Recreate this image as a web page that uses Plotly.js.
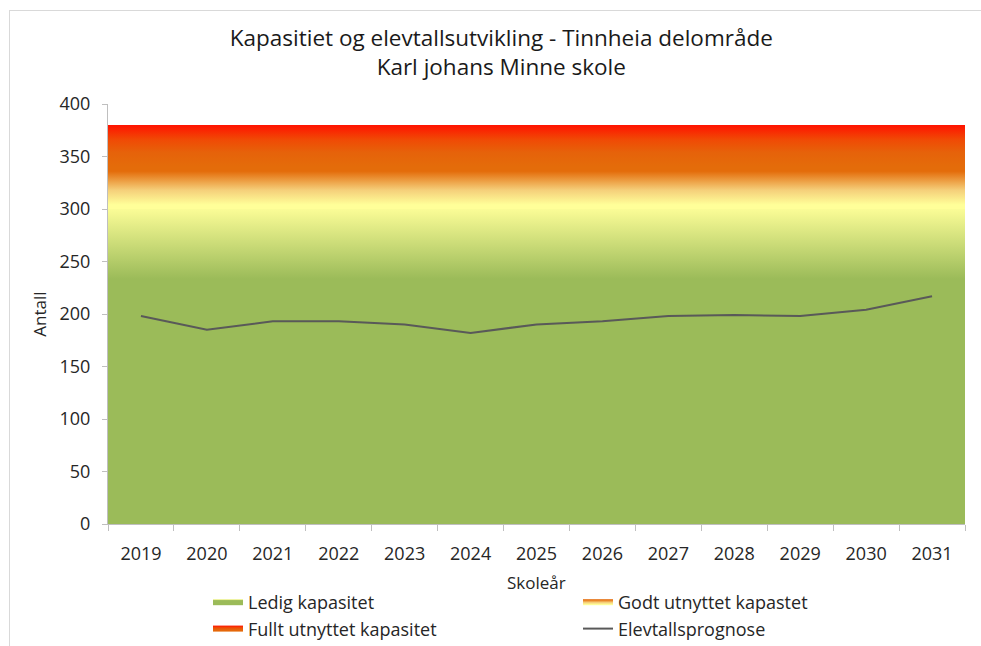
<!DOCTYPE html>
<html>
<head>
<meta charset="utf-8">
<script src="https://cdn.plot.ly/plotly-3.0.1.min.js"></script>
<style>
    html, body { margin: 0; padding: 0; background: #ffffff; }
    #chart { width: 981px; height: 646px; }
</style>
</head>
<body>
<div id="chart"></div>
<script>
// ---------- Data ---------- //
const years = ['2019', '2020', '2021', '2022', '2023', '2024', '2025', '2026', '2027', '2028', '2029', '2030', '2031'];
const elevtall = [198, 185, 193, 193, 190, 182, 190, 193, 198, 199, 198, 204, 217];
const ledigKapasitet = [300, 300, 300, 300, 300, 300, 300, 300, 300, 300, 300, 300, 300];
const godtUtnyttet = [40, 40, 40, 40, 40, 40, 40, 40, 40, 40, 40, 40, 40];
const fulltUtnyttet = [40, 40, 40, 40, 40, 40, 40, 40, 40, 40, 40, 40, 40];
const yTicks = [0, 50, 100, 150, 200, 250, 300, 350, 400];

// ---------- Colours ---------- //
const green = '#9bbb59';
const yellow = '#ffff99';
const orange = '#e46c0a';
const red = '#ff1200';

const fontFamily = '"Open Sans", Lato, sans-serif';

// Capacity bands (areas span the full plot width on the hidden axis)
const ledigTrace = {
    x: years, y: ledigKapasitet,
    xaxis: 'x', yaxis: 'y',
    type: 'scatter', mode: 'none',
    stackgroup: 'cap',
    name: 'Ledig kapasitet',
    fillcolor: green,
    fillgradient: {
        type: 'vertical', start: 0, stop: 303,
        colorscale: [[0, green], [0.77, green], [1, yellow]]
    },
    hoverinfo: 'skip'
};

const godtTrace = {
    x: years, y: godtUtnyttet,
    xaxis: 'x', yaxis: 'y',
    type: 'scatter', mode: 'none',
    stackgroup: 'cap',
    name: 'Godt utnyttet kapastet',
    fillcolor: orange,
    fillgradient: {
        type: 'vertical', start: 300, stop: 340,
        colorscale: [[0, yellow], [0.1, yellow], [0.45, '#f5cf7a'], [0.9, orange], [1, orange]]
    },
    hoverinfo: 'skip'
};

const fulltTrace = {
    x: years, y: fulltUtnyttet,
    xaxis: 'x', yaxis: 'y',
    type: 'scatter', mode: 'none',
    stackgroup: 'cap',
    name: 'Fullt utnyttet kapasitet',
    fillcolor: red,
    fillgradient: {
        type: 'vertical', start: 340, stop: 380,
        colorscale: [[0, orange], [0.35, '#e6620a'], [0.65, '#f04a05'], [1, red]]
    },
    hoverinfo: 'skip'
};

// Student forecast line (visible category axis, drawn on top)
const prognoseTrace = {
    x: years, y: elevtall,
    xaxis: 'x2', yaxis: 'y',
    type: 'scatter', mode: 'lines',
    name: 'Elevtallsprognose',
    line: { color: '#595959', width: 2 },
};

// ---------- Layout ---------- //
const px2paperX = px => (px - 108) / 857;
const px2paperY = px => (524 - px) / 420;

const layout = {
    width: 981,
    height: 646,
    margin: { l: 108, r: 16, t: 104, b: 122 },
    paper_bgcolor: '#ffffff',
    plot_bgcolor: '#ffffff',
    font: { family: fontFamily, color: '#262626', size: 18 },
    showlegend: true,
    title: {
        text: 'Kapasitiet og elevtallsutvikling - Tinnheia delområde<br>Karl johans Minne skole',
        font: { family: fontFamily, size: 22.5, color: '#1a1a1a' },
        x: 0.511, xanchor: 'center',
        y: 1 - 46 / 646, yanchor: 'top'
    },
    xaxis: {
        type: 'category',
        range: [0, years.length - 1],
        visible: false,
        fixedrange: true
    },
    xaxis2: {
        type: 'category',
        overlaying: 'x',
        anchor: 'y',
        side: 'bottom',
        range: [-0.5, years.length - 0.5],
        tickson: 'boundaries',
        ticks: 'outside',
        ticklen: 6,
        tickcolor: '#bfbfbf',
        showline: true,
        linecolor: '#bfbfbf',
        linewidth: 1,
        showgrid: false,
        zeroline: false,
        ticklabelstandoff: 13,
        tickfont: { size: 18, color: '#262626' },
        fixedrange: true
    },
    yaxis: {
        range: [0, 400],
        tickvals: yTicks,
        ticks: 'outside',
        ticklen: 5,
        tickcolor: '#bfbfbf',
        showline: true,
        linecolor: '#bfbfbf',
        linewidth: 1,
        showgrid: false,
        zeroline: false,
        ticklabelstandoff: 8,
        tickfont: { size: 18, color: '#262626' },
        title: { text: 'Antall', font: { size: 17, color: '#262626' }, standoff: 8 },
        fixedrange: true
    },
    legend: {
        orientation: 'h',
        traceorder: 'normal',
        xref: 'container',
        yref: 'container',
        x: 208 / 981,
        xanchor: 'left',
        y: 1 - 584 / 646,
        yanchor: 'top',
        entrywidth: 325,
        entrywidthmode: 'pixels',
        font: { size: 18, color: '#262626' },
        bgcolor: 'rgba(0,0,0,0)'
    },
    annotations: [
        // x-axis title (placed by hand, standoff is ignored without automargin)
        {
            text: 'Skoleår', showarrow: false,
            xref: 'paper', yref: 'paper',
            x: 0.5, y: px2paperY(582),
            xanchor: 'center', yanchor: 'middle',
            font: { size: 17, color: '#262626' }
        }
    ],
    shapes: [
        // outer chart frame (top and left edges visible in the crop)
        {
            type: 'line', xref: 'paper', yref: 'paper',
            x0: px2paperX(9), x1: px2paperX(990),
            y0: px2paperY(10.5), y1: px2paperY(10.5),
            line: { color: '#d9d9d9', width: 1 }
        },
        {
            type: 'line', xref: 'paper', yref: 'paper',
            x0: px2paperX(9.5), x1: px2paperX(9.5),
            y0: px2paperY(10), y1: px2paperY(660),
            line: { color: '#d9d9d9', width: 1 }
        }
    ]
};

const config = { displayModeBar: false, staticPlot: true };

Plotly.newPlot('chart', [ledigTrace, godtTrace, fulltTrace, prognoseTrace], layout, config);
</script>
</body>
</html>
